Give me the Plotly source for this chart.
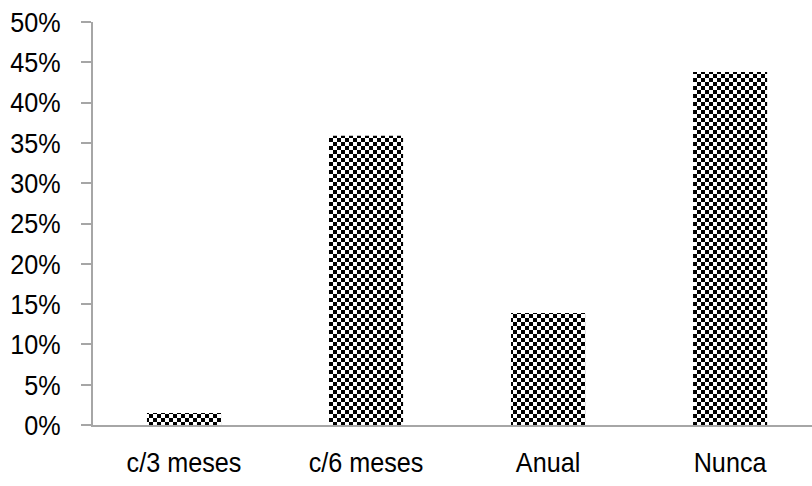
import plotly.graph_objects as go

# Frequency categories and share of respondents
categories = ["c/3 meses", "c/6 meses", "Anual", "Nunca"]
shares = [0.015, 0.359, 0.139, 0.438]

# Y axis ticks
y_ticks = [0, 0.05, 0.10, 0.15, 0.20, 0.25, 0.30, 0.35, 0.40, 0.45, 0.50]
y_tick_text = ["0%", "5%", "10%", "15%", "20%", "25%", "30%", "35%", "40%", "45%", "50%"]

AXIS = "#a6a6a6"
FONT = dict(family="Liberation Sans, Arial, sans-serif", size=28, color="#000000")

fig = go.Figure()
fig.add_trace(go.Bar(
    x=categories,
    y=shares,
    marker=dict(
        color="white",
        line=dict(width=0),
        pattern=dict(shape="x", fgcolor="black", bgcolor="white", size=6, solidity=0.5),
    ),
    hoverinfo="skip",
))

fig.update_layout(
    width=812,
    height=486,
    margin=dict(l=93, r=0, t=22, b=61),
    paper_bgcolor="white",
    plot_bgcolor="white",
    showlegend=False,
    bargap=0.593,
    font=FONT,
    xaxis=dict(
        type="category",
        range=[-0.5, 3.45],
        showgrid=False,
        zeroline=False,
        showline=True,
        linecolor=AXIS,
        linewidth=1.5,
        ticks="",
        ticklabelstandoff=12,
        tickfont=FONT,
    ),
    yaxis=dict(
        range=[0, 0.5],
        tickvals=y_ticks,
        ticktext=y_tick_text,
        showgrid=False,
        zeroline=False,
        showline=True,
        linecolor=AXIS,
        linewidth=1.5,
        ticks="outside",
        ticklen=10,
        tickwidth=1.5,
        tickcolor=AXIS,
        ticklabelstandoff=15,
        tickfont=FONT,
    ),
    # Inner half of the crossing tick marks
    yaxis2=dict(
        overlaying="y",
        matches="y",
        range=[0, 0.5],
        tickvals=y_ticks,
        showticklabels=False,
        showgrid=False,
        zeroline=False,
        showline=False,
        ticks="inside",
        ticklen=9,
        tickwidth=1.5,
        tickcolor=AXIS,
    ),
)

# Checkerboard fill for the bars and slightly condensed tick labels
post_js = """
var gd = document.getElementById('{plot_id}');
function applyStyling() {
  var svg = gd.querySelector('svg.main-svg');
  if (!svg) return;
  var ns = 'http://www.w3.org/2000/svg';
  var defs = svg.querySelector('defs');
  if (!defs) { defs = document.createElementNS(ns, 'defs'); svg.insertBefore(defs, svg.firstChild); }
  if (!document.getElementById('chk-fill')) {
    var p = document.createElementNS(ns, 'pattern');
    p.setAttribute('id', 'chk-fill');
    p.setAttribute('patternUnits', 'userSpaceOnUse');
    p.setAttribute('width', '8');
    p.setAttribute('height', '8');
    var cells = [[0, 0, 8, 8, 'white'], [0, 0, 4, 4, 'black'], [4, 4, 4, 4, 'black']];
    cells.forEach(function (c) {
      var r = document.createElementNS(ns, 'rect');
      r.setAttribute('x', c[0]); r.setAttribute('y', c[1]);
      r.setAttribute('width', c[2]); r.setAttribute('height', c[3]);
      r.setAttribute('fill', c[4]);
      r.setAttribute('shape-rendering', 'crispEdges');
      p.appendChild(r);
    });
    defs.appendChild(p);
  }
  gd.querySelectorAll('.bars .point path').forEach(function (el) {
    el.style.fill = 'url(#chk-fill)';
  });
  gd.querySelectorAll('g.xtick text, g.ytick text').forEach(function (el) {
    if (el.getAttribute('data-narrow')) return;
    var ax = parseFloat(el.getAttribute('x')) || 0;
    var t = el.getAttribute('transform') || '';
    el.setAttribute('transform', t + ' translate(' + ax + ',0) scale(0.9,1) translate(' + (-ax) + ',0)');
    el.setAttribute('data-narrow', '1');
  });
}
applyStyling();
gd.on('plotly_afterplot', applyStyling);
"""

fig.write_html("out.html", post_script=post_js, config={"displayModeBar": False})
